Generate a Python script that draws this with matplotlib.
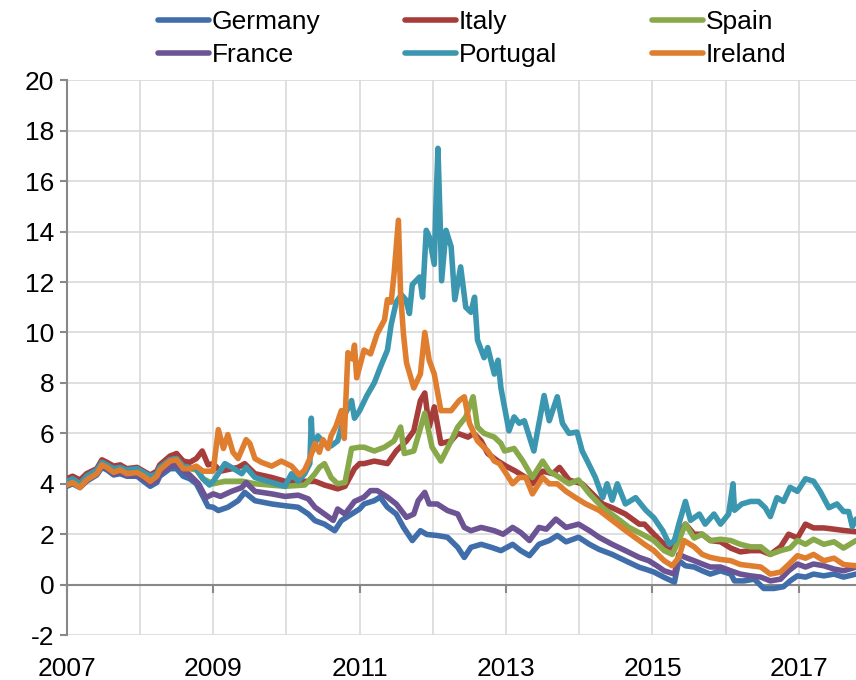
import matplotlib
matplotlib.use("Agg")
import matplotlib.pyplot as plt
from matplotlib.ticker import MultipleLocator, FixedLocator

plt.rcParams['font.family'] = ['Liberation Sans', 'DejaVu Sans']

# 10-year government bond yields (%)
de_t = [2007.0, 2007.08, 2007.18, 2007.27, 2007.41, 2007.48, 2007.55, 2007.64, 2007.73, 2007.82, 2007.96,
        2008.05, 2008.14, 2008.23, 2008.27, 2008.41, 2008.5, 2008.59, 2008.68, 2008.77, 2008.86, 2008.93,
        2009.0, 2009.07, 2009.2, 2009.34, 2009.43, 2009.57, 2009.8, 2009.98, 2010.16, 2010.3, 2010.39,
        2010.52, 2010.66, 2010.75, 2010.89, 2011.0, 2011.06, 2011.2, 2011.28, 2011.38, 2011.5, 2011.6,
        2011.72, 2011.83, 2011.92, 2012.06, 2012.2, 2012.34, 2012.43, 2012.52, 2012.66, 2012.8, 2012.93,
        2013.09, 2013.2, 2013.32, 2013.45, 2013.59, 2013.7, 2013.82, 2013.99, 2014.14, 2014.27, 2014.45,
        2014.63, 2014.82, 2014.92, 2015.02, 2015.16, 2015.3, 2015.36, 2015.45, 2015.57, 2015.68, 2015.79,
        2015.93, 2016.07, 2016.12, 2016.25, 2016.39, 2016.52, 2016.66, 2016.79, 2016.88, 2016.98, 2017.09,
        2017.2, 2017.34, 2017.48, 2017.61, 2017.78]
de_v = [3.9, 4.0, 3.85, 4.1, 4.35, 4.65, 4.55, 4.35, 4.4, 4.3, 4.3,
        4.1, 3.9, 4.05, 4.3, 4.6, 4.6, 4.3, 4.2, 4.0, 3.5, 3.1,
        3.07, 2.94, 3.07, 3.33, 3.66, 3.33, 3.2, 3.13, 3.07, 2.8, 2.54,
        2.4, 2.14, 2.54, 2.8, 3.0, 3.2, 3.33, 3.47, 3.07, 2.8, 2.27,
        1.75, 2.14, 1.99, 1.95, 1.88, 1.48, 1.08, 1.48, 1.6, 1.48, 1.35,
        1.6, 1.35, 1.15, 1.6, 1.75, 1.95, 1.7, 1.88, 1.6, 1.4, 1.2,
        0.95, 0.69, 0.6, 0.5, 0.29, 0.1, 0.95, 0.75, 0.7, 0.55, 0.42,
        0.55, 0.42, 0.15, 0.15, 0.22, -0.15, -0.15, -0.08, 0.15, 0.35, 0.3,
        0.42, 0.35, 0.42, 0.3, 0.42]

it_t = [2007.0, 2007.08, 2007.18, 2007.27, 2007.41, 2007.48, 2007.55, 2007.64, 2007.73, 2007.82, 2007.96,
        2008.05, 2008.14, 2008.23, 2008.27, 2008.41, 2008.5, 2008.59, 2008.68, 2008.77, 2008.85, 2008.93,
        2009.0, 2009.1, 2009.34, 2009.43, 2009.57, 2009.8, 2009.98, 2010.16, 2010.25, 2010.39, 2010.52,
        2010.7, 2010.8, 2010.93, 2011.0, 2011.06, 2011.2, 2011.38, 2011.5, 2011.64, 2011.74, 2011.83,
        2011.89, 2011.95, 2012.02, 2012.11, 2012.25, 2012.34, 2012.48, 2012.56, 2012.66, 2012.75, 2012.89,
        2013.0, 2013.13, 2013.27, 2013.36, 2013.5, 2013.64, 2013.73, 2013.86, 2014.04, 2014.18, 2014.32,
        2014.45, 2014.63, 2014.82, 2014.89, 2015.02, 2015.16, 2015.25, 2015.34, 2015.45, 2015.57, 2015.68,
        2015.79, 2015.93, 2016.07, 2016.2, 2016.34, 2016.48, 2016.61, 2016.75, 2016.86, 2016.98, 2017.09,
        2017.2, 2017.34, 2017.48, 2017.61, 2017.78]
it_v = [4.2, 4.3, 4.15, 4.4, 4.6, 4.95, 4.85, 4.7, 4.75, 4.6, 4.65,
        4.5, 4.35, 4.5, 4.75, 5.1, 5.2, 4.9, 4.85, 5.0, 5.3, 4.75,
        4.8, 4.5, 4.65, 4.8, 4.4, 4.25, 4.1, 4.05, 4.1, 4.1, 3.95,
        3.8, 3.9, 4.6, 4.8, 4.8, 4.9, 4.8, 5.3, 5.7, 6.1, 7.3,
        7.6, 6.25, 7.05, 5.6, 5.7, 6.0, 5.85, 6.0, 5.7, 5.2, 4.9,
        4.7, 4.5, 4.25, 4.0, 4.5, 4.4, 4.65, 4.15, 4.0, 3.6, 3.2,
        3.05, 2.8, 2.4, 2.4, 2.0, 1.6, 1.45, 2.0, 2.4, 2.0, 2.0,
        1.75, 1.7, 1.45, 1.3, 1.35, 1.35, 1.2, 1.5, 2.0, 1.85, 2.4,
        2.25, 2.25, 2.2, 2.15, 2.1]

es_t = [2007.0, 2007.08, 2007.18, 2007.27, 2007.41, 2007.48, 2007.55, 2007.64, 2007.73, 2007.82, 2007.96,
        2008.05, 2008.14, 2008.23, 2008.27, 2008.41, 2008.5, 2008.59, 2008.68, 2008.77, 2008.86, 2009.0,
        2009.16, 2009.4, 2009.57, 2009.98, 2010.25, 2010.3, 2010.39, 2010.45, 2010.52, 2010.61, 2010.7,
        2010.8, 2010.89, 2011.0, 2011.06, 2011.2, 2011.34, 2011.47, 2011.56, 2011.61, 2011.74, 2011.89,
        2011.99, 2012.11, 2012.25, 2012.34, 2012.45, 2012.55, 2012.61, 2012.7, 2012.84, 2012.93, 2012.98,
        2013.11, 2013.23, 2013.36, 2013.5, 2013.59, 2013.73, 2013.86, 2013.99, 2014.14, 2014.32, 2014.5,
        2014.68, 2014.86, 2015.02, 2015.16, 2015.27, 2015.36, 2015.45, 2015.57, 2015.68, 2015.79, 2015.93,
        2016.07, 2016.2, 2016.34, 2016.48, 2016.61, 2016.75, 2016.88, 2016.98, 2017.09, 2017.2, 2017.34,
        2017.48, 2017.61, 2017.78]
es_v = [4.0, 4.1, 3.95, 4.2, 4.45, 4.75, 4.7, 4.5, 4.6, 4.45, 4.5,
        4.35, 4.15, 4.35, 4.6, 4.95, 5.0, 4.65, 4.6, 4.55, 4.2, 4.0,
        4.1, 4.1, 4.0, 3.9, 3.95, 4.1, 4.4, 4.65, 4.8, 4.25, 4.0,
        4.05, 5.4, 5.45, 5.45, 5.3, 5.45, 5.7, 6.25, 5.2, 5.3, 6.8,
        5.45, 4.9, 5.7, 6.25, 6.65, 7.45, 6.25, 6.0, 5.85, 5.6, 5.3,
        5.4, 4.9, 4.25, 4.9, 4.5, 4.25, 4.0, 4.15, 3.6, 3.05, 2.67,
        2.27, 2.0, 1.75, 1.35, 1.2, 1.75, 2.4, 1.85, 2.0, 1.75, 1.8,
        1.75, 1.6, 1.5, 1.5, 1.2, 1.35, 1.45, 1.75, 1.6, 1.8, 1.6,
        1.7, 1.45, 1.75]

fr_t = [2007.0, 2007.08, 2007.18, 2007.27, 2007.41, 2007.48, 2007.55, 2007.64, 2007.73, 2007.82, 2007.96,
        2008.05, 2008.14, 2008.23, 2008.27, 2008.41, 2008.5, 2008.68, 2008.8, 2008.9, 2009.0, 2009.1,
        2009.25, 2009.39, 2009.45, 2009.57, 2009.8, 2009.98, 2010.16, 2010.3, 2010.39, 2010.52, 2010.64,
        2010.7, 2010.8, 2010.93, 2011.06, 2011.15, 2011.24, 2011.38, 2011.5, 2011.64, 2011.74, 2011.8,
        2011.89, 2011.95, 2012.06, 2012.2, 2012.34, 2012.43, 2012.52, 2012.66, 2012.84, 2012.96, 2013.09,
        2013.2, 2013.32, 2013.45, 2013.55, 2013.68, 2013.82, 2013.99, 2014.14, 2014.27, 2014.45, 2014.63,
        2014.82, 2014.95, 2015.06, 2015.16, 2015.3, 2015.36, 2015.45, 2015.57, 2015.68, 2015.79, 2015.93,
        2016.07, 2016.2, 2016.34, 2016.48, 2016.61, 2016.75, 2016.86, 2016.98, 2017.09, 2017.2, 2017.34,
        2017.48, 2017.61, 2017.78]
fr_v = [3.95, 4.05, 3.9, 4.15, 4.4, 4.7, 4.6, 4.4, 4.45, 4.35, 4.35,
        4.2, 4.0, 4.15, 4.4, 4.7, 4.75, 4.35, 4.0, 3.45, 3.6, 3.5,
        3.7, 3.85, 4.05, 3.7, 3.6, 3.5, 3.55, 3.4, 3.07, 2.8, 2.55,
        3.0, 2.8, 3.3, 3.47, 3.73, 3.73, 3.47, 3.2, 2.67, 2.8, 3.33,
        3.66, 3.2, 3.2, 2.94, 2.8, 2.27, 2.14, 2.27, 2.14, 2.0, 2.27,
        2.07, 1.75, 2.27, 2.2, 2.6, 2.27, 2.4, 2.14, 1.88, 1.6, 1.35,
        1.08, 0.95, 0.75, 0.55, 0.42, 1.2, 1.08, 0.95, 0.82, 0.7, 0.7,
        0.55, 0.42, 0.35, 0.3, 0.15, 0.22, 0.55, 0.82, 0.7, 0.82, 0.75,
        0.62, 0.55, 0.7]

pt_t = [2007.0, 2007.08, 2007.18, 2007.27, 2007.41, 2007.48, 2007.55, 2007.64, 2007.73, 2007.82, 2007.96,
        2008.05, 2008.14, 2008.23, 2008.27, 2008.41, 2008.5, 2008.59, 2008.68, 2008.77, 2008.86, 2008.95,
        2009.0, 2009.16, 2009.25, 2009.39, 2009.45, 2009.57, 2009.8, 2009.98, 2010.07, 2010.16, 2010.25,
        2010.32, 2010.34, 2010.36, 2010.43, 2010.52, 2010.61, 2010.7, 2010.8, 2010.89, 2010.93, 2011.0,
        2011.1, 2011.2, 2011.28, 2011.38, 2011.43, 2011.5, 2011.57, 2011.63, 2011.68, 2011.72, 2011.82,
        2011.86, 2011.91, 2011.95, 2012.02, 2012.04, 2012.07, 2012.1, 2012.12, 2012.18, 2012.25, 2012.3,
        2012.38, 2012.45, 2012.52, 2012.57, 2012.61, 2012.7, 2012.75, 2012.84, 2012.89, 2012.93, 2013.04,
        2013.11, 2013.18, 2013.25, 2013.32, 2013.38, 2013.45, 2013.52, 2013.59, 2013.7, 2013.77, 2013.86,
        2013.97, 2014.04, 2014.11, 2014.22, 2014.32, 2014.38, 2014.45, 2014.52, 2014.63, 2014.77, 2014.91,
        2015.02, 2015.14, 2015.23, 2015.3, 2015.36, 2015.45, 2015.52, 2015.64, 2015.72, 2015.84, 2015.93,
        2016.04, 2016.1, 2016.12, 2016.22, 2016.34, 2016.45, 2016.54, 2016.61, 2016.7, 2016.79, 2016.88,
        2016.98, 2017.09, 2017.2, 2017.29, 2017.41, 2017.52, 2017.61, 2017.68, 2017.73, 2017.78]
pt_v = [4.1, 4.2, 4.0, 4.3, 4.55, 4.85, 4.75, 4.6, 4.65, 4.55, 4.6,
        4.45, 4.3, 4.4, 4.65, 4.95, 5.0, 4.7, 4.65, 4.6, 4.2, 3.95,
        4.1, 4.8, 4.65, 4.4, 4.65, 4.25, 4.05, 3.9, 4.4, 4.1, 4.4,
        4.8, 6.6, 5.3, 5.9, 5.6, 5.5, 5.7, 6.75, 7.3, 6.6, 6.9,
        7.5, 8.0, 8.6, 9.3, 10.3, 11.2, 11.5, 11.3, 10.75, 11.9, 12.2,
        11.4, 14.05, 13.8, 12.7, 14.85, 17.3, 14.4, 12.05, 14.05, 13.4, 11.3,
        12.6, 11.0, 10.8, 11.4, 9.7, 9.0, 9.4, 8.35, 8.9, 7.8, 6.1,
        6.65, 6.4, 6.5, 5.85, 5.3, 6.4, 7.5, 6.5, 7.45, 6.4, 6.0,
        6.05, 5.3, 4.9, 4.25, 3.45, 4.0, 3.35, 4.0, 3.2, 3.45, 2.95,
        2.65, 2.14, 1.6, 1.75, 2.4, 3.3, 2.55, 2.8, 2.4, 2.8, 2.4,
        2.8, 4.0, 2.95, 3.2, 3.3, 3.3, 3.05, 2.7, 3.45, 3.3, 3.86,
        3.7, 4.2, 4.1, 3.7, 3.05, 3.2, 2.9, 2.9, 2.3, 2.6]

ie_t = [2007.0, 2007.08, 2007.18, 2007.27, 2007.41, 2007.48, 2007.55, 2007.64, 2007.73, 2007.82, 2007.96,
        2008.05, 2008.14, 2008.23, 2008.27, 2008.41, 2008.5, 2008.59, 2008.68, 2008.77, 2008.86, 2008.95,
        2009.0, 2009.07, 2009.14, 2009.2, 2009.27, 2009.34, 2009.45, 2009.5, 2009.57, 2009.66, 2009.8,
        2009.93, 2010.07, 2010.18, 2010.25, 2010.32, 2010.39, 2010.45, 2010.5, 2010.57, 2010.61, 2010.68,
        2010.75, 2010.79, 2010.84, 2010.9, 2010.93, 2010.96, 2011.06, 2011.15, 2011.24, 2011.34, 2011.38,
        2011.43, 2011.47, 2011.53, 2011.56, 2011.6, 2011.64, 2011.74, 2011.83, 2011.89, 2011.95, 2012.02,
        2012.11, 2012.25, 2012.36, 2012.43, 2012.5, 2012.61, 2012.75, 2012.84, 2012.91, 2012.98, 2013.09,
        2013.18, 2013.27, 2013.36, 2013.5, 2013.59, 2013.7, 2013.82, 2013.95, 2014.09, 2014.27, 2014.45,
        2014.63, 2014.82, 2014.89, 2015.02, 2015.16, 2015.27, 2015.36, 2015.43, 2015.57, 2015.68, 2015.79,
        2015.93, 2016.07, 2016.2, 2016.34, 2016.48, 2016.61, 2016.75, 2016.86, 2016.98, 2017.09, 2017.2,
        2017.34, 2017.48, 2017.61, 2017.78]
ie_v = [3.95, 4.05, 3.85, 4.15, 4.4, 4.75, 4.65, 4.45, 4.55, 4.4, 4.45,
        4.3, 4.1, 4.3, 4.55, 4.9, 4.95, 4.6, 4.6, 4.7, 4.5, 4.5,
        4.5, 6.15, 5.4, 5.95, 5.25, 5.0, 5.75, 5.6, 5.0, 4.85, 4.7,
        4.9, 4.7, 4.35, 4.55, 5.0, 5.6, 5.25, 5.75, 5.4, 5.9, 6.3,
        6.9, 5.8, 9.2, 8.95, 9.5, 8.2, 9.3, 9.15, 9.95, 10.5, 11.3,
        11.2, 12.3, 14.45, 11.5, 9.9, 8.8, 7.8, 8.35, 10.0, 8.9, 8.35,
        6.9, 6.9, 7.3, 7.45, 6.4, 5.7, 5.3, 4.9, 4.8, 4.5, 4.0,
        4.25, 4.25, 3.6, 4.25, 4.0, 4.0, 3.7, 3.45, 3.2, 2.95, 2.55,
        2.15, 1.75, 1.6, 1.35, 0.95, 0.75, 1.08, 1.75, 1.5, 1.2, 1.08,
        1.0, 0.95, 0.8, 0.75, 0.7, 0.42, 0.5, 0.8, 1.15, 1.05, 1.2,
        0.95, 1.05, 0.8, 0.75]

names = ["Germany", "Italy", "Spain", "France", "Portugal", "Ireland"]
colors = ["#3F6EAA", "#A73D3A", "#88A94A", "#6C5393", "#3B96AF", "#E07E30"]
series = [(de_t, de_v), (it_t, it_v), (es_t, es_v), (fr_t, fr_v), (pt_t, pt_v), (ie_t, ie_v)]
year_ticks = [2007, 2009, 2011, 2013, 2015, 2017]

fig, ax = plt.subplots(figsize=(8.56, 6.8), dpi=100)
fig.subplots_adjust(left=0.078, right=1.0, top=0.882, bottom=0.066)

lines = {}
for name, col, (t, v) in zip(names, colors, series):
    ln, = ax.plot(t, v, color=col, lw=4.0, label=name, zorder=3,
                  solid_joinstyle='round', solid_capstyle='round')
    lines[name] = ln

ax.set_xlim(2007, 2017.78)
ax.set_ylim(-2, 20)
ax.xaxis.set_major_locator(FixedLocator(year_ticks))
ax.xaxis.set_minor_locator(MultipleLocator(1))
ax.set_xticklabels([str(y) for y in year_ticks])
ax.set_yticks(range(-2, 21, 2))
ax.set_yticklabels([str(v) for v in range(-2, 21, 2)])
ax.grid(which='both', axis='x', color='#d9d9d9', lw=1.2, zorder=0)
ax.grid(which='major', axis='y', color='#d9d9d9', lw=1.2, zorder=0)
ax.set_axisbelow(True)

# x axis sits at zero, labels at the bottom
ax.spines['bottom'].set_position(('data', 0))
ax.spines['bottom'].set_color('#888888')
ax.spines['bottom'].set_linewidth(1.5)
ax.spines['left'].set_color('#888888')
ax.spines['left'].set_linewidth(1.5)
ax.spines['top'].set_visible(False)
ax.spines['right'].set_visible(False)
ax.tick_params(axis='x', which='major', direction='out', length=6, width=1.5, color='#888888',
               pad=46, labelsize=19)
ax.tick_params(axis='x', which='minor', length=0)
ax.tick_params(axis='y', direction='out', length=5, width=1.5, color='#888888', pad=4, labelsize=19)

# legend: three fixed-width columns, two entries each
columns = [["Germany", "France"], ["Italy", "Portugal"], ["Spain", "Ireland"]]
col_x = [158, 405, 652]
for names_col, x0 in zip(columns, col_x):
    fig.legend([lines[n] for n in names_col], names_col, loc='upper left',
               bbox_to_anchor=(x0 / 856, 1 - 10 / 680), frameon=False, fontsize=19,
               handlelength=1.95, handletextpad=0.1, labelspacing=0.35,
               borderpad=0, borderaxespad=0)

plt.savefig("out.png", dpi=100)
plt.close()
